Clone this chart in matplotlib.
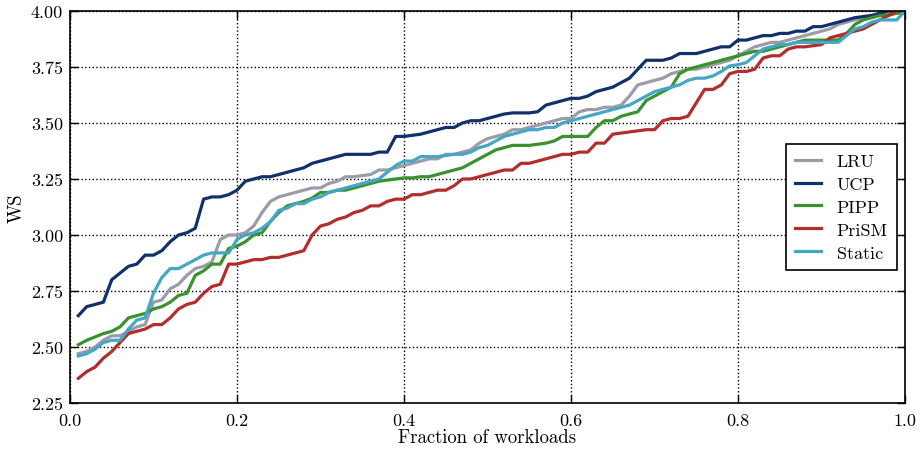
import numpy as np
import matplotlib
matplotlib.use("Agg")
import matplotlib.pyplot as plt

plt.rcParams['font.family'] = 'serif'
plt.rcParams['font.serif'] = ['cmr10', 'DejaVu Serif']
plt.rcParams['mathtext.fontset'] = 'cm'
plt.rcParams['axes.formatter.use_mathtext'] = True

# sorted weighted speedup per workload, one entry per 1% of workloads
fraction = np.arange(1, 101) / 100.0

lru = [2.47, 2.48, 2.50, 2.53, 2.55, 2.55, 2.57, 2.59, 2.60, 2.70,
       2.71, 2.76, 2.78, 2.82, 2.85, 2.86, 2.88, 2.98, 3.00, 3.00,
       3.01, 3.04, 3.10, 3.15, 3.17, 3.18, 3.19, 3.20, 3.21, 3.21,
       3.23, 3.24, 3.26, 3.26, 3.265, 3.27, 3.29, 3.29, 3.30, 3.31,
       3.32, 3.33, 3.34, 3.34, 3.36, 3.36, 3.37, 3.38, 3.41, 3.43,
       3.44, 3.45, 3.47, 3.47, 3.48, 3.49, 3.50, 3.51, 3.52, 3.52,
       3.55, 3.56, 3.56, 3.57, 3.57, 3.58, 3.62, 3.67, 3.68, 3.69,
       3.70, 3.72, 3.73, 3.74, 3.74, 3.75, 3.76, 3.77, 3.78, 3.80,
       3.82, 3.84, 3.85, 3.86, 3.86, 3.87, 3.88, 3.89, 3.90, 3.91,
       3.92, 3.94, 3.95, 3.96, 3.97, 3.98, 3.98, 3.99, 3.99, 4.00]

ucp = [2.64, 2.68, 2.69, 2.70, 2.80, 2.83, 2.86, 2.87, 2.91, 2.91,
       2.93, 2.97, 3.00, 3.01, 3.03, 3.16, 3.17, 3.17, 3.18, 3.20,
       3.24, 3.25, 3.26, 3.26, 3.27, 3.28, 3.29, 3.30, 3.32, 3.33,
       3.34, 3.35, 3.36, 3.36, 3.36, 3.36, 3.37, 3.37, 3.44, 3.44,
       3.445, 3.45, 3.46, 3.47, 3.48, 3.48, 3.50, 3.51, 3.51, 3.52,
       3.53, 3.54, 3.545, 3.545, 3.545, 3.55, 3.58, 3.59, 3.60, 3.61,
       3.61, 3.62, 3.64, 3.65, 3.66, 3.68, 3.70, 3.74, 3.78, 3.78,
       3.78, 3.79, 3.81, 3.81, 3.81, 3.82, 3.83, 3.84, 3.84, 3.87,
       3.87, 3.88, 3.89, 3.89, 3.90, 3.90, 3.91, 3.91, 3.93, 3.93,
       3.94, 3.95, 3.96, 3.97, 3.975, 3.98, 3.99, 4.00, 4.00, 4.00]

pipp = [2.51, 2.53, 2.545, 2.56, 2.57, 2.59, 2.63, 2.64, 2.65, 2.67,
        2.68, 2.70, 2.73, 2.74, 2.82, 2.84, 2.87, 2.87, 2.94, 2.95,
        2.97, 3.00, 3.01, 3.06, 3.10, 3.13, 3.14, 3.15, 3.165, 3.19,
        3.19, 3.20, 3.20, 3.21, 3.22, 3.23, 3.24, 3.245, 3.25, 3.255,
        3.255, 3.26, 3.26, 3.27, 3.28, 3.29, 3.30, 3.32, 3.34, 3.36,
        3.38, 3.39, 3.40, 3.40, 3.40, 3.405, 3.41, 3.42, 3.44, 3.44,
        3.44, 3.44, 3.48, 3.51, 3.51, 3.53, 3.54, 3.55, 3.60, 3.62,
        3.64, 3.66, 3.72, 3.74, 3.75, 3.76, 3.77, 3.78, 3.79, 3.80,
        3.81, 3.82, 3.82, 3.83, 3.84, 3.85, 3.86, 3.87, 3.87, 3.87,
        3.87, 3.87, 3.90, 3.94, 3.96, 3.97, 3.98, 3.98, 3.99, 3.99]

prism = [2.36, 2.39, 2.41, 2.45, 2.48, 2.52, 2.56, 2.57, 2.58, 2.60,
         2.60, 2.63, 2.67, 2.69, 2.70, 2.74, 2.77, 2.78, 2.87, 2.87,
         2.88, 2.89, 2.89, 2.90, 2.90, 2.91, 2.92, 2.93, 3.00, 3.04,
         3.05, 3.07, 3.08, 3.10, 3.11, 3.13, 3.13, 3.15, 3.16, 3.16,
         3.18, 3.18, 3.19, 3.20, 3.20, 3.22, 3.25, 3.25, 3.26, 3.27,
         3.28, 3.29, 3.29, 3.32, 3.32, 3.33, 3.34, 3.35, 3.36, 3.36,
         3.37, 3.37, 3.41, 3.41, 3.45, 3.455, 3.46, 3.465, 3.47, 3.47,
         3.51, 3.52, 3.52, 3.53, 3.59, 3.65, 3.65, 3.67, 3.72, 3.73,
         3.73, 3.74, 3.79, 3.80, 3.80, 3.83, 3.84, 3.84, 3.845, 3.85,
         3.88, 3.89, 3.90, 3.91, 3.92, 3.94, 3.96, 3.98, 4.00, 4.00]

static = [2.46, 2.47, 2.49, 2.52, 2.53, 2.53, 2.58, 2.62, 2.63, 2.74,
          2.81, 2.85, 2.85, 2.87, 2.89, 2.91, 2.92, 2.92, 2.92, 2.98,
          3.00, 3.01, 3.03, 3.06, 3.11, 3.12, 3.14, 3.14, 3.16, 3.17,
          3.19, 3.20, 3.21, 3.22, 3.23, 3.24, 3.25, 3.28, 3.31, 3.33,
          3.33, 3.35, 3.35, 3.35, 3.355, 3.36, 3.36, 3.37, 3.39, 3.40,
          3.42, 3.44, 3.45, 3.46, 3.47, 3.47, 3.48, 3.48, 3.50, 3.51,
          3.52, 3.53, 3.54, 3.55, 3.56, 3.57, 3.58, 3.60, 3.62, 3.64,
          3.65, 3.66, 3.67, 3.69, 3.70, 3.70, 3.71, 3.73, 3.755, 3.76,
          3.77, 3.80, 3.83, 3.84, 3.85, 3.85, 3.86, 3.86, 3.86, 3.86,
          3.86, 3.86, 3.89, 3.92, 3.93, 3.95, 3.96, 3.96, 3.96, 4.00]

names = ['LRU', 'UCP', 'PIPP', 'PriSM', 'Static']
series = [lru, ucp, pipp, prism, static]
colors = ['#9c9ca8', '#12306c', '#3a922f', '#b22e2c', '#45a6c6']

fig = plt.figure(figsize=(9.22, 4.52), dpi=100)
ax = fig.add_axes([0.0759, 0.1062, 0.9057, 0.8673])

for name, vals, col in zip(names, series, colors):
  ax.plot(fraction, vals, color=col, lw=2.3, label=name)

ax.set_xlim(0, 1.0)
ax.set_ylim(2.25, 4.0)
ax.set_xticks([0.0, 0.2, 0.4, 0.6, 0.8, 1.0])
ax.set_yticks([2.25, 2.50, 2.75, 3.00, 3.25, 3.50, 3.75, 4.00])
ax.set_yticklabels(['%.2f' % v for v in ax.get_yticks()])
ax.set_xticklabels(['%.1f' % v for v in ax.get_xticks()])

ax.tick_params(direction='in', top=True, right=True, length=6, width=1,
               labelsize=13)
ax.tick_params(axis='x', pad=7)
ax.tick_params(axis='y', pad=5)
ax.grid(True, color='black', linestyle=':', linewidth=1)
for sp in ax.spines.values():
  sp.set_linewidth(1.2)

ax.set_xlabel('Fraction of workloads', fontsize=13.5, labelpad=0)
ax.set_ylabel('WS', fontsize=13.5, labelpad=4)

leg = ax.legend(loc='center right', bbox_to_anchor=(1.0, 0.5), fontsize=13,
                fancybox=False, edgecolor='black', framealpha=1,
                handlelength=1.4, handletextpad=0.9, borderpad=0.5,
                labelspacing=0.4, borderaxespad=0.45)
leg.get_frame().set_linewidth(1.2)

fig.savefig('out.png', dpi=100)
